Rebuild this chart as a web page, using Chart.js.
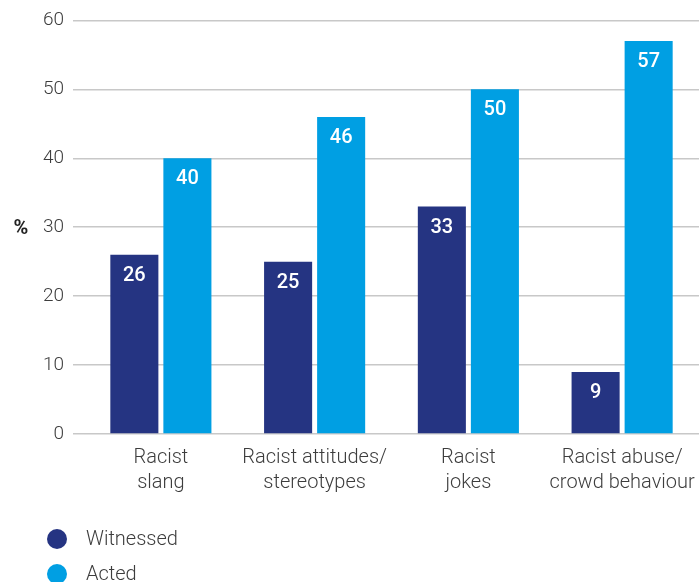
<!DOCTYPE html>
<html>
<head>
<meta charset="utf-8">
<script src="https://cdn.jsdelivr.net/npm/chart.js@4.4.1/dist/chart.umd.min.js"></script>
<style>
  html, body { margin: 0; padding: 0; background: #fff; }
  #wrap { width: 699px; height: 582px; position: relative; }
</style>
</head>
<body>
<div id="wrap"><canvas id="chart"></canvas></div>
<script>
const categories = [
  ['Racist', 'slang'],
  ['Racist attitudes/', 'stereotypes'],
  ['Racist', 'jokes'],
  ['Racist abuse/', 'crowd behaviour']
];
const witnessed = [26, 25, 33, 9];
const acted = [40, 46, 50, 57];
const yTicks = [0, 10, 20, 30, 40, 50, 60];

const NAVY = '#253482';
const BLUE = '#009fe3';
const TEXT = '#3d3d3d';
const FONT = 'Roboto';

// white value labels inside the top of each bar
const valueLabels = {
  id: 'valueLabels',
  afterDatasetsDraw(chart) {
    const ctx = chart.ctx;
    ctx.save();
    ctx.fillStyle = '#fff';
    ctx.font = '500 20px ' + FONT;
    ctx.textAlign = 'center';
    ctx.textBaseline = 'middle';
    chart.data.datasets.forEach((ds, i) => {
      chart.getDatasetMeta(i).data.forEach((bar, j) => {
        ctx.fillText(ds.data[j], bar.x, bar.y + 21);
      });
    });
    ctx.restore();
  }
};

// "%" axis label + legend at the bottom left
const extras = {
  id: 'extras',
  afterDraw(chart) {
    const ctx = chart.ctx;
    const area = chart.chartArea;
    ctx.save();
    ctx.fillStyle = '#222';
    ctx.font = 'bold 20px ' + FONT;
    ctx.textAlign = 'center';
    ctx.textBaseline = 'middle';
    ctx.fillText('%', 21, (area.top + area.bottom) / 2 + 2);

    ctx.font = '300 20px ' + FONT;
    ctx.textAlign = 'left';
    chart.data.datasets.forEach((ds, i) => {
      const y = 539 + i * 35;
      ctx.fillStyle = ds.backgroundColor;
      ctx.beginPath();
      ctx.arc(57, y, 10, 0, Math.PI * 2);
      ctx.fill();
      ctx.fillStyle = TEXT;
      ctx.fillText(ds.label, 86, y + 1);
    });
    ctx.restore();
  }
};

new Chart(document.getElementById('chart'), {
  type: 'bar',
  data: {
    labels: categories,
    datasets: [
      { label: 'Witnessed', data: witnessed, backgroundColor: NAVY },
      { label: 'Acted', data: acted, backgroundColor: BLUE }
    ]
  },
  options: {
    responsive: true,
    maintainAspectRatio: false,
    animation: false,
    categoryPercentage: 0.69,
    barPercentage: 0.906,
    layout: { padding: { top: 14, right: 0, bottom: 78, left: 0 } },
    plugins: {
      legend: { display: false },
      tooltip: { enabled: false }
    },
    scales: {
      x: {
        grid: { display: false, drawTicks: false },
        border: { display: false },
        ticks: {
          color: TEXT,
          padding: 11,
          maxRotation: 0,
          autoSkip: false,
          font: { family: FONT, size: 20, weight: 300, lineHeight: 1.25 }
        },
        afterFit(scale) {
          scale.height = 70;
          scale.paddingLeft = 0;
          scale.paddingRight = 0;
        }
      },
      y: {
        min: 0,
        max: 60,
        afterBuildTicks(scale) { scale.ticks = yTicks.map(v => ({ value: v })); },
        grid: { color: '#c8c8c8', lineWidth: 1.5, drawTicks: true, tickLength: 11 },
        border: { display: false },
        ticks: {
          color: TEXT,
          padding: 9,
          font: { family: FONT, size: 19, weight: 300 }
        },
        afterFit(scale) { scale.width = 84; }
      }
    }
  },
  plugins: [valueLabels, extras]
});
</script>
</body>
</html>
